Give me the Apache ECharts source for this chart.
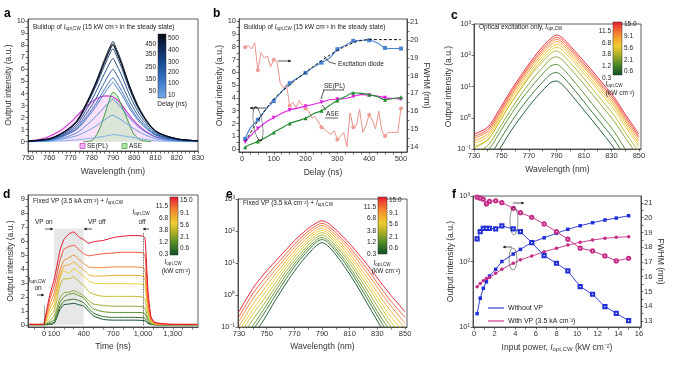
<!DOCTYPE html>
<html lang="en">
<head>
<meta charset="UTF-8">
<title>Lasing buildup spectra</title>
<script src="https://cdn.jsdelivr.net/npm/echarts@6/dist/echarts.min.js"></script>
<style>
  html, body { margin: 0; padding: 0; background: #fff; }
  #chart { width: 675px; height: 375px; }
</style>
</head>
<body>
<div id="chart"></div>
<script>
const FONT = 'Liberation Sans';

// ---------- panel a: spectra during buildup ----------
const waveA = [750, 760, 767, 773, 778, 782, 786, 789, 790, 791, 794, 798, 803, 810, 820, 830];
const delayA = [10, 50, 100, 150, 200, 250, 300, 350, 400, 450, 500];
const spectraA = [
  [0.00, 0.02, 0.08, 0.15, 0.25, 0.35, 0.45, 0.55, 0.60, 0.58, 0.50, 0.40, 0.25, 0.08, 0.02, 0.00],
  [0.02, 0.08, 0.25, 0.50, 0.90, 1.30, 1.80, 2.15, 2.20, 2.10, 1.80, 1.30, 0.75, 0.25, 0.07, 0.02],
  [0.02, 0.10, 0.35, 0.74, 1.44, 2.10, 2.87, 3.40, 3.50, 3.36, 2.80, 1.93, 1.09, 0.39, 0.10, 0.04],
  [0.03, 0.15, 0.49, 1.03, 2.00, 2.94, 4.02, 4.75, 4.90, 4.70, 3.92, 2.70, 1.52, 0.54, 0.15, 0.05],
  [0.03, 0.16, 0.53, 1.11, 2.17, 3.18, 4.35, 5.14, 5.30, 5.09, 4.24, 2.92, 1.64, 0.58, 0.16, 0.05],
  [0.04, 0.18, 0.60, 1.26, 2.46, 3.60, 4.92, 5.82, 6.00, 5.76, 4.80, 3.30, 1.86, 0.66, 0.18, 0.06],
  [0.04, 0.21, 0.69, 1.45, 2.83, 4.14, 5.66, 6.69, 6.90, 6.62, 5.52, 3.80, 2.14, 0.76, 0.21, 0.07],
  [0.05, 0.23, 0.77, 1.62, 3.16, 4.62, 6.31, 7.47, 7.70, 7.39, 6.16, 4.24, 2.39, 0.85, 0.23, 0.08],
  [0.05, 0.24, 0.80, 1.68, 3.28, 4.80, 6.56, 7.76, 8.00, 7.68, 6.40, 4.40, 2.48, 0.88, 0.24, 0.08],
  [0.05, 0.25, 0.83, 1.74, 3.40, 4.98, 6.81, 8.05, 8.30, 7.97, 6.64, 4.57, 2.57, 0.91, 0.25, 0.08],
  [0.05, 0.24, 0.81, 1.70, 3.32, 4.86, 6.64, 7.86, 8.10, 7.78, 6.48, 4.46, 2.51, 0.89, 0.24, 0.08]
];
const waveSE = [750, 758, 765, 770, 775, 780, 784, 787, 790, 793, 796, 800, 805, 810, 818, 830];
const sePL = [0.05, 0.3, 0.9, 1.6, 2.5, 3.3, 3.7, 3.8, 3.7, 3.3, 2.6, 1.7, 0.9, 0.4, 0.1, 0.02];
const waveASE = [776, 780, 783, 786, 788, 790, 792, 795, 798, 800, 803, 808];
const ase = [0, 0.1, 0.8, 2.2, 3.3, 4.1, 3.8, 2.6, 1.3, 0.6, 0.15, 0];
const delayBarLeft = ['450', '350', '250', '150', '50'];
const delayBarRight = ['500', '400', '300', '200', '100', '10'];

// ---------- panel b: buildup vs delay ----------
const delayB = [10, 25, 50, 75, 100, 125, 150, 175, 200, 225, 250, 275, 300, 325, 350, 375, 400, 425, 450, 475, 500];
const diodeB = [0.8, 1.6, 2.3, 3.1, 3.75, 4.5, 5.15, 5.55, 5.95, 6.4, 6.75, 7.1, 7.8, 8.1, 8.45, 8.5, 8.5, 8.3, 7.9, 7.85, 7.85];
const sePLB = [0.55, 1.0, 1.6, 2.1, 2.45, 2.8, 3.05, 3.2, 3.35, 3.5, 3.65, 3.85, 3.9, 3.95, 4.1, 4.25, 4.2, 4.15, 4.0, 3.95, 3.9];
const aseB = [0.15, 0.35, 0.6, 0.9, 1.3, 1.65, 2.0, 2.2, 2.4, 2.75, 3.0, 3.4, 3.8, 4.1, 4.4, 4.35, 4.25, 4.1, 3.85, 3.95, 4.05];
const fitDelayB = [10, 30, 50, 100, 150, 200, 250, 300, 350, 380, 400, 450, 500];
const fitB = [0.6, 1.4, 2.2, 3.9, 5.0, 6.0, 6.9, 7.7, 8.3, 8.5, 8.55, 8.55, 8.55];
const fwhmDelayB = [10, 20, 30, 40, 50, 60, 70, 80, 90, 100, 110, 120, 130, 140, 150, 160, 170, 180, 190, 200,
  210, 220, 230, 240, 250, 260, 270, 280, 290, 300, 310, 320, 330, 340, 350, 360, 370, 380, 390, 400,
  410, 420, 430, 440, 450, 460, 470, 480, 490, 500];
const fwhmB = [19.6, 19.7, 19.5, 19.85, 18.3, 19.3, 19.0, 19.1, 18.5, 18.9,
  18.8, 17.6, 17.3, 17.5, 16.3, 16.5, 16.2, 16.6, 16.3, 16.15,
  16.0, 15.6, 15.7, 15.4, 15.1, 15.0, 14.8, 14.7, 14.9, 14.4,
  14.6, 14.8, 14.0, 15.9, 15.1, 15.2, 16.1, 14.8, 15.2, 15.8,
  15.5, 15.0, 16.0, 14.9, 14.6, 14.8, 14.8, 14.8, 14.8, 16.15];

// ---------- panel c: optical excitation only ----------
const waveC = [730, 740, 748, 756, 764, 772, 780, 786, 790, 794, 800, 808, 816, 824, 832, 840, 850];
const spectraC = [
  [0.015, 0.027, 0.09, 0.33, 1.05, 3.0, 7.5, 13.5, 15, 11.7, 6.0, 2.25, 0.83, 0.3, 0.105, 0.03, 0.008],
  [0.028, 0.05, 0.17, 0.62, 2.0, 5.6, 14, 25, 28, 22, 11.2, 4.2, 1.5, 0.56, 0.2, 0.056, 0.014],
  [0.05, 0.09, 0.3, 1.1, 3.6, 10, 25.5, 46, 51, 40, 20.4, 7.7, 2.8, 1.0, 0.36, 0.1, 0.026],
  [0.072, 0.13, 0.43, 1.6, 5.4, 16, 41, 76, 90, 72, 38, 15, 5.7, 2.1, 0.77, 0.23, 0.054],
  [0.11, 0.19, 0.66, 2.5, 8.2, 25, 63, 115, 137, 110, 58, 23, 8.6, 3.2, 1.2, 0.34, 0.082],
  [0.12, 0.2, 0.69, 2.6, 8.9, 28, 77, 142, 180, 150, 81, 32, 13, 4.9, 1.8, 0.52, 0.12],
  [0.15, 0.25, 0.85, 3.3, 11, 35, 96, 176, 224, 186, 101, 40, 16, 6.0, 2.3, 0.65, 0.15],
  [0.18, 0.3, 1.0, 4.0, 13.4, 43, 116, 214, 272, 226, 122, 49, 20, 7.3, 2.7, 0.79, 0.18],
  [0.22, 0.36, 1.2, 4.7, 16, 51, 138, 255, 324, 269, 145, 58, 23, 8.7, 3.3, 0.94, 0.22],
  [0.25, 0.42, 1.4, 5.5, 18.5, 59, 160, 295, 375, 312, 168, 67, 27, 10, 3.8, 1.1, 0.25],
  [0.3, 0.5, 1.7, 6.5, 22, 70, 190, 350, 445, 370, 200, 80, 32, 12, 4.5, 1.3, 0.3]
];
const levelLeft = ['11.5', '6.8', '3.8', '1.2', '0.3'];
const levelRight = ['15.0', '9.1', '5.6', '2.1', '0.6'];

// ---------- panel d: time traces with fixed VP ----------
const timeD = [-150, -10, 0, 30, 60, 100, 130, 160, 200, 250, 300, 350, 400, 450, 500, 600, 700, 800, 900, 1000, 1020, 1050, 1080, 1120, 1300, 1550];
const tracesD = [
  [0.02, 0.02, 0.02, 0.02, 0.05, 0.1, 0.55, 1.1, 1.45, 1.5, 1.55, 1.45, 1.35, 1.0, 0.65, 0.4, 0.35, 0.35, 0.35, 0.33, 0.3, 0.12, 0.04, 0.01, 0.01, 0.01],
  [0.02, 0.02, 0.02, 0.05, 0.1, 0.2, 0.7, 1.3, 1.7, 1.8, 1.85, 1.75, 1.6, 1.2, 0.85, 0.6, 0.55, 0.55, 0.55, 0.52, 0.48, 0.2, 0.06, 0.02, 0.02, 0.02],
  [0.03, 0.03, 0.03, 0.1, 0.2, 0.35, 0.9, 1.6, 2.0, 2.2, 2.25, 2.1, 1.95, 1.5, 1.15, 0.95, 0.9, 0.9, 0.9, 0.88, 0.8, 0.35, 0.1, 0.03, 0.02, 0.02],
  [0.03, 0.03, 0.04, 0.15, 0.35, 0.6, 1.2, 1.9, 2.3, 2.35, 2.45, 2.3, 2.1, 1.75, 1.5, 1.4, 1.35, 1.35, 1.35, 1.3, 1.2, 0.5, 0.15, 0.05, 0.02, 0.02],
  [0.03, 0.03, 0.05, 0.3, 0.6, 1.0, 1.8, 2.8, 3.3, 3.3, 3.45, 3.1, 2.85, 2.4, 2.2, 2.05, 2.05, 2.05, 2.05, 2.0, 1.85, 0.8, 0.2, 0.05, 0.03, 0.03],
  [0.04, 0.04, 0.05, 0.45, 0.9, 1.4, 2.3, 3.3, 3.9, 3.7, 4.05, 3.75, 3.5, 3.15, 3.0, 2.95, 2.95, 2.95, 2.95, 2.9, 2.7, 1.1, 0.3, 0.08, 0.03, 0.03],
  [0.04, 0.04, 0.05, 0.6, 1.2, 1.8, 2.6, 3.5, 4.2, 4.3, 4.5, 4.2, 3.95, 3.6, 3.5, 3.5, 3.55, 3.55, 3.55, 3.5, 3.3, 1.3, 0.35, 0.1, 0.04, 0.04],
  [0.05, 0.05, 0.1, 0.8, 1.5, 2.2, 3.0, 3.9, 4.6, 4.8, 5.0, 4.7, 4.4, 4.15, 4.1, 4.1, 4.15, 4.15, 4.15, 4.1, 3.9, 1.6, 0.4, 0.1, 0.04, 0.04],
  [0.05, 0.05, 0.1, 1.0, 1.9, 2.7, 3.6, 4.6, 5.4, 5.6, 5.7, 5.4, 5.1, 4.95, 5.0, 5.1, 5.15, 5.2, 5.2, 5.15, 5.0, 2.0, 0.5, 0.15, 0.05, 0.05],
  [0.05, 0.05, 0.1, 1.2, 2.2, 3.2, 4.2, 5.3, 6.1, 6.5, 6.65, 6.3, 6.1, 5.85, 5.95, 6.05, 6.25, 6.35, 6.4, 6.35, 6.2, 2.5, 0.6, 0.2, 0.05, 0.05]
];
const vpWindowD = [100, 400];
const vpTopD = 6.9;
const cwOnD = [0, 1.4];
const cwOffD = [1000, 6.6];

// ---------- panel e: spectra with fixed VP ----------
const waveE = [730, 740, 748, 756, 764, 772, 780, 786, 790, 794, 800, 808, 816, 824, 832, 840, 850];
const spectraE = [
  [0.013, 0.051, 0.17, 0.65, 2.3, 7.2, 19, 35, 43, 35, 18, 6.0, 1.7, 0.43, 0.11, 0.03, 0.0085],
  [0.02, 0.08, 0.26, 0.93, 3.2, 9.8, 25, 45, 54, 45, 23, 8.1, 2.3, 0.62, 0.16, 0.047, 0.013],
  [0.028, 0.11, 0.36, 1.26, 4.2, 12, 30, 52, 63, 52, 28, 10, 3.0, 0.83, 0.22, 0.068, 0.019],
  [0.039, 0.17, 0.51, 1.7, 5.5, 15, 36, 63, 75, 63, 34, 13, 4.0, 1.15, 0.32, 0.1, 0.028],
  [0.055, 0.25, 0.74, 2.3, 7.1, 19, 45, 74, 89, 76, 41, 16, 5.2, 1.6, 0.46, 0.14, 0.043],
  [0.076, 0.35, 1.07, 3.2, 8.9, 24, 54, 89, 105, 89, 50, 20, 6.8, 2.1, 0.63, 0.2, 0.062],
  [0.105, 0.51, 1.5, 4.3, 11.5, 30, 65, 105, 124, 105, 60, 25, 8.7, 2.9, 0.89, 0.3, 0.091],
  [0.15, 0.76, 2.2, 5.9, 15, 38, 81, 126, 148, 126, 74, 32, 11.7, 4.1, 1.3, 0.44, 0.13],
  [0.21, 1.1, 3.1, 7.9, 19.5, 47, 98, 148, 174, 148, 89, 39, 15, 5.5, 1.8, 0.63, 0.2],
  [0.3, 1.6, 4.5, 11, 26, 60, 120, 180, 209, 180, 110, 50, 20, 7.5, 2.6, 0.95, 0.3]
];

// ---------- panel f: power dependence ----------
const powerF = [0.3, 0.6, 0.9, 1.2, 1.5, 2.1, 2.7, 3.8, 4.5, 5.6, 6.8, 8.0, 9.1, 10.3, 11.5, 12.7, 13.8, 15.0];
const intNoVP = [16, 27.5, 39, 49, 60, 76, 100, 130, 153, 196, 230, 270, 310, 352, 391, 430, 460, 500];
const intVP = [41, 46, 51, 55, 57, 66, 76, 94, 106, 121, 141, 159, 178, 196, 213, 226, 234, 239];
const fwhmNoVP = [18.56, 19.05, 19.28, 19.28, 19.28, 19.24, 19.44, 19.24, 19.05, 18.31, 17.43, 16.91, 16.39, 15.33, 14.81, 13.97, 13.52, 13.02];
const fwhmVP = [21.39, 21.32, 21.25, 20.93, 21.1, 21.14, 21.02, 20.64, 20.34, 20.03, 19.58, 19.05, 18.54, 17.93, 17.75, 17.41, 17.07, 17.25];

// tick labels
const logValues = [0.1, 1, 10, 100, 1000];
const logLabels = ['10⁻¹', '10⁰', '10¹', '10²', '10³'];
const timeLabelsD = [0, 100, 400, 700, 1000, 1300];

// ---------- helpers ----------
const BLUES = [[0, '#74aae8'], [0.3, '#3273c4'], [0.6, '#144284'], [0.85, '#0b1f45'], [1, '#050608']];
const HEAT = [[0, '#0c4d28'], [0.2, '#4e8a26'], [0.4, '#b4b22a'], [0.55, '#f0cc2e'], [0.75, '#f2902e'], [0.9, '#ee4d32'], [1, '#e4132c']];

function hex(c) { return [1, 3, 5].map(i => parseInt(c.slice(i, i + 2), 16)); }
function mix(stops, t) {
  for (let i = 1; i < stops.length; i++) {
    if (t <= stops[i][0]) {
      const k = (t - stops[i - 1][0]) / (stops[i][0] - stops[i - 1][0]);
      const a = hex(stops[i - 1][1]), b = hex(stops[i][1]);
      return 'rgb(' + a.map((v, j) => Math.round(v + (b[j] - v) * k)).join(',') + ')';
    }
  }
  return stops[stops.length - 1][1];
}
function range(a, b, s) { const out = []; for (let v = a; v <= b + 1e-9; v += s) out.push(+v.toFixed(4)); return out; }
function gradient(stops, reverse) {
  return { type: 'linear', x: 0, y: 0, x2: 0, y2: 1,
    colorStops: stops.map(s => ({ offset: reverse ? 1 - s[0] : s[0], color: s[1] })) };
}

function axis(o) {
  const base = {
    nameLocation: 'middle',
    axisLine: { show: true, onZero: false, lineStyle: { color: '#333', width: 0.8 } },
    axisTick: { show: true, length: 2.5, lineStyle: { color: '#333', width: 0.7 } },
    axisLabel: { color: '#333', fontSize: 7.5, fontFamily: FONT, margin: 3 },
    splitLine: { show: false },
    nameTextStyle: { color: '#333', fontSize: 8.5, fontFamily: FONT }
  };
  const out = Object.assign({}, base, o);
  ['axisLine', 'axisTick', 'axisLabel', 'nameTextStyle'].forEach(k => { out[k] = Object.assign({}, base[k], o[k] || {}); });
  return out;
}
const logFmt = v => { const i = logValues.findIndex(x => Math.abs(x - v) / x < 1e-6); return i >= 0 ? logLabels[i] : ''; };
const nameRich = {
  i: { fontStyle: 'italic', fontSize: 8.5, fontFamily: FONT, color: '#333' },
  sub: { fontSize: 6, fontFamily: FONT, color: '#333', verticalAlign: 'bottom', padding: [3, 0, 0, 0] }
};

function line(xi, yi, xs, ys, color, extra) {
  return Object.assign({
    type: 'line', xAxisIndex: xi, yAxisIndex: yi,
    data: xs.map((x, i) => [x, ys[i]]),
    symbol: 'none', smooth: 0.3, silent: true,
    lineStyle: { color: color, width: 0.9 }, itemStyle: { color: color }
  }, extra || {});
}

// ---------- graphic helpers ----------
function richG(size) {
  return {
    i: { fontSize: size, fontFamily: FONT, fontStyle: 'italic', fill: '#222' },
    sub: { fontSize: size * 0.7, fontFamily: FONT, fill: '#222', verticalAlign: 'bottom', padding: [size * 0.4, 0, 0, 0] }
  };
}
function label(x, y, text, size, extra) {
  size = size || 6.5;
  return { type: 'text', x: x, y: y, silent: true, z: 50,
    style: Object.assign({ text: text, fill: '#222', fontSize: size, fontFamily: FONT,
      align: 'left', verticalAlign: 'middle', textAlign: 'left', textVerticalAlign: 'middle', rich: richG(size) }, extra || {}) };
}
function seg(x1, y1, x2, y2, w) {
  return { type: 'line', silent: true, z: 50, shape: { x1, y1, x2, y2 }, style: { stroke: '#111', lineWidth: w || 0.7 } };
}
function arrow(x1, y1, x2, y2) {
  const a = Math.atan2(y2 - y1, x2 - x1), h = 3;
  return [seg(x1, y1, x2, y2),
    { type: 'polygon', silent: true, z: 50, shape: { points: [[x2, y2],
      [x2 - h * Math.cos(a - 0.5), y2 - h * Math.sin(a - 0.5)],
      [x2 - h * Math.cos(a + 0.5), y2 - h * Math.sin(a + 0.5)]] }, style: { fill: '#111' } }];
}
function ellipse(cx, cy, rx, ry, rot) {
  return { type: 'circle', silent: true, z: 50, x: cx, y: cy, scaleX: rx / ry, rotation: rot || 0,
    shape: { cx: 0, cy: 0, r: ry }, style: { fill: 'none', stroke: '#111', lineWidth: 0.7, strokeNoScale: true } };
}
function colorbar(x, y, w, h, stops, reverse, left, right, leftY, rightY) {
  const els = [{ type: 'rect', silent: true, z: 50, shape: { x, y, width: w, height: h },
    style: { fill: gradient(stops, reverse), stroke: '#333', lineWidth: 0.5 } }];
  left.forEach((t, i) => els.push(label(x - 2, leftY[i], t, 6.5, { align: 'right', textAlign: 'right' })));
  right.forEach((t, i) => els.push(label(x + w + 2, rightY[i], t, 6.5)));
  return els;
}

// ---------- series ----------
const series = [];

// a
series.push(line(0, 0, waveSE, sePL, '#d23fd2', { z: 1, lineStyle: { color: '#d23fd2', width: 1.2 }, areaStyle: { color: 'rgba(243,160,243,0.45)' } }));
series.push(line(0, 0, waveASE, ase, '#3f9b3f', { z: 1, lineStyle: { color: '#3f9b3f', width: 1 }, areaStyle: { color: 'rgba(165,232,155,0.55)' } }));
spectraA.forEach((ys, i) => series.push(line(0, 0, waveA, ys, mix(BLUES, i / (spectraA.length - 1)), { z: 3 })));

// b
const every50 = (v, p) => (p.dataIndex % 2 === 0 ? 4 : 0);
series.push(line(1, 2, fwhmDelayB, fwhmB, '#e8887f', {
  z: 1, smooth: false, symbol: 'circle', showAllSymbol: true,
  symbolSize: (v, p) => (fwhmDelayB[p.dataIndex] === 10 || fwhmDelayB[p.dataIndex] % 50 === 0 ? 4 : 0),
  lineStyle: { color: '#e8887f', width: 0.9 }, itemStyle: { color: '#ef9d95' }
}));
series.push(line(1, 1, delayB, diodeB, '#4a82d0', { z: 2, symbol: 'rect', showAllSymbol: true, symbolSize: every50, lineStyle: { color: '#4a82d0', width: 1.1 } }));
series.push(line(1, 1, fitDelayB, fitB, '#111', { z: 3, smooth: 0.4, lineStyle: { color: '#111', width: 1, type: [3, 2] } }));
series.push(line(1, 1, delayB, sePLB, '#e020e0', { z: 2, symbol: 'triangle', symbolRotate: 180, showAllSymbol: true, symbolSize: every50, lineStyle: { color: '#e020e0', width: 1.1 } }));
series.push(line(1, 1, delayB, aseB, '#1e8c2c', { z: 2, symbol: 'triangle', showAllSymbol: true, symbolSize: every50, lineStyle: { color: '#1e8c2c', width: 1.1 } }));

// c
spectraC.forEach((ys, i) => series.push(line(2, 3, waveC, ys, mix(HEAT, i / (spectraC.length - 1)))));

// d
tracesD.forEach((ys, i) => {
  const s = line(3, 4, timeD, ys, mix(HEAT, i / (tracesD.length - 1)), { smooth: 0.2, z: 3, lineStyle: { color: mix(HEAT, i / (tracesD.length - 1)), width: 1 } });
  if (i === 0) {
    s.markArea = { silent: true, itemStyle: { color: 'rgba(195,195,195,0.4)' },
      data: [[{ xAxis: vpWindowD[0], yAxis: 0 }, { xAxis: vpWindowD[1], yAxis: vpTopD }]] };
    s.markLine = { silent: true, symbol: 'none', label: { show: false },
      lineStyle: { color: '#222', type: 'dotted', width: 0.8 },
      data: [[{ coord: [cwOnD[0], 0] }, { coord: cwOnD }], [{ coord: [cwOffD[0], 0] }, { coord: cwOffD }]] };
  }
  series.push(s);
});

// e
spectraE.forEach((ys, i) => series.push(line(4, 5, waveE, ys, mix(HEAT, i / (spectraE.length - 1)))));

// f
const BLUE_F = '#2130d6', MAG_F = '#c42a86';
series.push(line(5, 6, powerF, intNoVP, BLUE_F, { smooth: false, symbol: 'rect', symbolSize: 3.5, lineStyle: { color: BLUE_F, width: 0.9 } }));
series.push(line(5, 6, powerF, intVP, MAG_F, { smooth: false, symbol: 'circle', symbolSize: 3.5, lineStyle: { color: MAG_F, width: 0.9 } }));
series.push(line(5, 7, powerF, fwhmNoVP, BLUE_F, { smooth: false, symbol: 'emptyRect', symbolSize: 3.2, lineStyle: { color: BLUE_F, width: 0.9 }, itemStyle: { color: BLUE_F, borderWidth: 0.7 } }));
series.push(line(5, 7, powerF, fwhmVP, MAG_F, { smooth: false, symbol: 'emptyCircle', symbolSize: 3.2, lineStyle: { color: MAG_F, width: 0.9 }, itemStyle: { color: MAG_F, borderWidth: 0.7 } }));

// ---------- graphics (annotations, colorbars, panel letters) ----------
const buildup = 'Buildup of {i|I}{sub|opt,CW} (15 kW cm⁻² in the steady state)';
const fixedVP = 'Fixed VP (3.5 kA cm⁻²) + {i|I}{sub|opt,CW}';
const iopt = '{i|I}{sub|opt,CW}';
const letters = [['a', 4, 14], ['b', 213, 14], ['c', 451, 16], ['d', 3, 195], ['e', 226, 195], ['f', 452, 195]];

const graphic = [];
letters.forEach(l => graphic.push(label(l[1], l[2], l[0], 12, { fontWeight: 'bold', fill: '#000' })));

// a
graphic.push(label(33, 27, buildup, 6.5));
graphic.push(...colorbar(158, 34, 8, 64, BLUES, true, delayBarLeft, delayBarRight, [44, 54, 67, 79, 91], [38, 50, 62, 72, 83, 95]));
graphic.push(label(172, 104, 'Delay (ns)', 6.5, { align: 'center', textAlign: 'center' }));
graphic.push({ type: 'rect', silent: true, z: 50, shape: { x: 80, y: 143.5, width: 5, height: 5 }, style: { fill: 'rgba(243,160,243,0.8)', stroke: '#c030c0', lineWidth: 0.7 } });
graphic.push(label(87, 146.5, 'SE(PL)', 6.5));
graphic.push({ type: 'rect', silent: true, z: 50, shape: { x: 122, y: 143.5, width: 5, height: 5 }, style: { fill: 'rgba(165,232,155,0.9)', stroke: '#3f9b3f', lineWidth: 0.7 } });
graphic.push(label(129, 146.5, 'ASE', 6.5));

// b
graphic.push(label(244, 27, buildup, 6.5));
graphic.push(...arrow(278, 61, 291, 61));
graphic.push(...arrow(266, 108, 250, 108));
graphic.push(ellipse(258, 124, 4.5, 17, 0.15));
graphic.push(label(338, 64, 'Excitation diode', 6.5));
graphic.push({ type: 'polyline', silent: true, z: 50, shape: { points: [[336, 64], [329, 62], [324, 56]] }, style: { stroke: '#111', lineWidth: 0.7, fill: 'none' } });
graphic.push(label(324, 86, 'SE(PL)', 6.5));
graphic.push(seg(323, 90, 344, 90));
graphic.push(seg(324, 90, 321, 99));
graphic.push(label(326, 114, 'ASE', 6.5));
graphic.push(seg(325, 118, 338, 118));
graphic.push(seg(326, 110, 322, 105));

// c
graphic.push(label(479, 27, 'Optical excitation only, ' + iopt, 6.5));
graphic.push(...colorbar(613, 22, 9, 53, HEAT, true, levelLeft, levelRight, [31, 43, 54, 66, 78], [24, 36, 48, 60, 71]));
graphic.push(label(614, 84, iopt, 6.5, { align: 'center', textAlign: 'center' }));
graphic.push(label(620, 93, '(kW cm⁻²)', 6.5, { align: 'center', textAlign: 'center' }));

// d
graphic.push(label(33, 201, fixedVP, 6.5));
graphic.push(label(35, 222, 'VP on', 6.5));
graphic.push(...arrow(45, 229, 53, 229));
graphic.push(label(88, 222, 'VP off', 6.5));
graphic.push(...arrow(92, 229, 84, 229));
graphic.push(label(141, 212, iopt, 6.5, { align: 'center', textAlign: 'center' }));
graphic.push(label(142, 222, 'off', 6.5, { align: 'center', textAlign: 'center' }));
graphic.push(...arrow(149, 229, 143, 229));
graphic.push(label(37, 280, iopt, 6.5, { align: 'center', textAlign: 'center' }));
graphic.push(label(38, 288, 'on', 6.5, { align: 'center', textAlign: 'center' }));
graphic.push(...arrow(37, 295, 44, 295));
graphic.push(...colorbar(170, 197, 8, 58, HEAT, true, levelLeft, levelRight, [206, 218, 230, 242, 254], [200, 213, 225, 237, 248]));
graphic.push(label(173, 262, iopt, 6.5, { align: 'center', textAlign: 'center' }));
graphic.push(label(176, 271, '(kW cm⁻²)', 6.5, { align: 'center', textAlign: 'center' }));

// e
graphic.push(label(243, 203, fixedVP, 6.5));
graphic.push(...colorbar(378, 197, 9, 57, HEAT, true, levelLeft, levelRight, [207, 218, 231, 242, 254], [200, 213, 224, 237, 248]));
graphic.push(label(382, 263, iopt, 6.5, { align: 'center', textAlign: 'center' }));
graphic.push(label(386, 271, '(kW cm⁻²)', 6.5, { align: 'center', textAlign: 'center' }));

// f
graphic.push(ellipse(514, 221, 4, 14));
graphic.push(...arrow(513, 203, 524, 203));
graphic.push(ellipse(513, 259, 4, 11));
graphic.push(...arrow(512, 247, 503, 247));
graphic.push(Object.assign(seg(488, 308, 504, 308, 1.1), { style: { stroke: BLUE_F, lineWidth: 1.1 } }));
graphic.push(label(508, 308, 'Without VP', 7));
graphic.push(Object.assign(seg(488, 321, 504, 321, 1.1), { style: { stroke: MAG_F, lineWidth: 1.1 } }));
graphic.push(label(508, 321, 'With VP (3.5 kA cm⁻²)', 7));

// ---------- option ----------
const gridBox = g => Object.assign(g, { show: true, borderColor: '#333', borderWidth: 0.8, backgroundColor: 'transparent' });
const option = {
  animation: false,
  textStyle: { fontFamily: FONT },
  grid: [
    gridBox({ left: 28, top: 19, width: 170, height: 132 }),
    gridBox({ left: 239, top: 19, width: 168, height: 133 }),
    gridBox({ left: 474, top: 24, width: 167, height: 125 }),
    gridBox({ left: 28, top: 195, width: 170, height: 132 }),
    gridBox({ left: 238, top: 199, width: 169, height: 128 }),
    gridBox({ left: 473, top: 196, width: 168, height: 131 })
  ],
  xAxis: [
    axis({ gridIndex: 0, type: 'value', min: 750, max: 830, name: 'Wavelength (nm)', nameGap: 16,
      axisLabel: { customValues: range(750, 830, 10) }, axisTick: { customValues: range(750, 830, 2) } }),
    axis({ gridIndex: 1, type: 'value', min: -9.4, max: 519, name: 'Delay (ns)', nameGap: 16,
      axisLabel: { customValues: range(0, 500, 100) }, axisTick: { customValues: range(0, 500, 25) } }),
    axis({ gridIndex: 2, type: 'value', min: 730, max: 851.5, name: 'Wavelength (nm)', nameGap: 16,
      axisLabel: { customValues: range(730, 850, 20) }, axisTick: { customValues: range(730, 850, 10) } }),
    axis({ gridIndex: 3, type: 'value', min: -162, max: 1555, name: 'Time (ns)', nameGap: 15,
      axisLabel: { customValues: timeLabelsD, formatter: v => v.toLocaleString('en-US') },
      axisTick: { customValues: range(-100, 1500, 100) } }),
    axis({ gridIndex: 4, type: 'value', min: 729.3, max: 851.4, name: 'Wavelength (nm)', nameGap: 15,
      axisLabel: { customValues: range(730, 850, 20) }, axisTick: { customValues: range(730, 850, 10) } }),
    axis({ gridIndex: 5, type: 'value', min: -0.1, max: 16.2, nameGap: 16,
      name: 'Input power, {i|I}{sub|opt,CW} (kW cm⁻²)', nameTextStyle: { rich: nameRich },
      axisLabel: { customValues: range(0, 16, 2) }, axisTick: { customValues: range(0, 16, 1) } })
  ],
  yAxis: [
    axis({ gridIndex: 0, type: 'value', min: -0.77, max: 10.17, name: 'Output intensity (a.u.)', nameGap: 13,
      axisLabel: { customValues: range(0, 10, 1) }, axisTick: { customValues: range(0, 10, 0.5) } }),
    axis({ gridIndex: 1, type: 'value', min: -0.23, max: 10.16, name: 'Output intensity (a.u.)', nameGap: 13,
      axisLabel: { customValues: range(0, 10, 1) }, axisTick: { customValues: range(0, 10, 0.5) } }),
    axis({ gridIndex: 1, type: 'value', position: 'right', min: 13.7, max: 21.19, name: 'FWHM (nm)', nameGap: 14, nameRotate: -90,
      axisLabel: { customValues: range(14, 21, 1) }, axisTick: { customValues: range(14, 21, 0.5) } }),
    axis({ gridIndex: 2, type: 'log', logBase: 10, min: 0.1, max: 1000, name: 'Output intensity (a.u.)', nameGap: 18,
      axisLabel: { formatter: logFmt } }),
    axis({ gridIndex: 3, type: 'value', min: -0.14, max: 9.29, name: 'Output intensity (a.u.)', nameGap: 13,
      axisLabel: { customValues: range(0, 9, 1) }, axisTick: { customValues: range(0, 9, 0.5) } }),
    axis({ gridIndex: 4, type: 'log', logBase: 10, min: 0.1, max: 1000, axisLabel: { formatter: logFmt } }),
    axis({ gridIndex: 5, type: 'log', logBase: 10, min: 10, max: 1000, name: 'Output intensity (a.u.)', nameGap: 18,
      axisLabel: { formatter: logFmt } }),
    axis({ gridIndex: 5, type: 'value', position: 'right', min: 12.59, max: 21.47, name: 'FWHM (nm)', nameGap: 15, nameRotate: -90,
      axisLabel: { customValues: range(13, 21, 1) }, axisTick: { customValues: range(13, 21, 0.5) } })
  ],
  series: series,
  graphic: graphic
};

const chart = echarts.init(document.getElementById('chart'));
chart.setOption(option);
</script>
</body>
</html>
